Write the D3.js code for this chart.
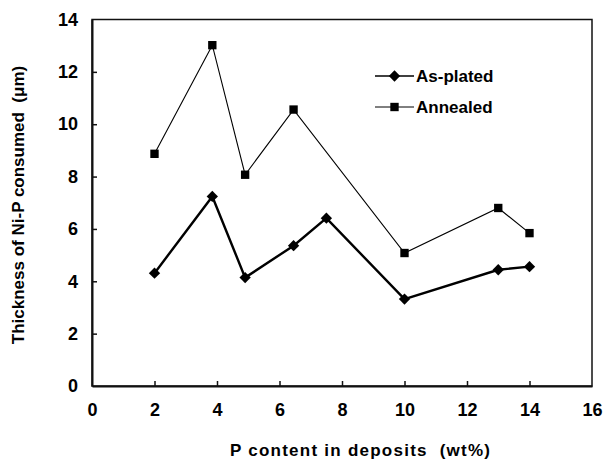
<!DOCTYPE html>
<html>
<head>
<meta charset="utf-8">
<script src="https://cdn.jsdelivr.net/npm/d3@7"></script>
<style>
  body { margin: 0; background: #fff; }
  svg text { font-family: "Liberation Sans", Arial, sans-serif; font-weight: bold; fill: #000; white-space: pre; }
</style>
</head>
<body>
<div id="chart"></div>
<script>
// values
var asPlatedX = [2, 3.85, 4.9, 6.45, 7.5, 10, 13, 14];
var asPlatedY = [4.31, 7.24, 4.14, 5.36, 6.41, 3.32, 4.44, 4.56];
var annealedX = [2, 3.85, 4.9, 6.45, 10, 13, 14];
var annealedY = [8.87, 13.02, 8.07, 10.56, 5.08, 6.8, 5.84];
var xTicks = [0, 2, 4, 6, 8, 10, 12, 14, 16];
var yTicks = [0, 2, 4, 6, 8, 10, 12, 14];
var seriesNames = ['As-plated', 'Annealed'];

var width = 604, height = 468;
var margins = {top: 19.5, left: 92, right: 12, bottom: 82};
var w = width - margins.left - margins.right;
var h = height - margins.top - margins.bottom;

var svg = d3.select('#chart').append('svg')
    .attr('width', width)
    .attr('height', height);

var g = svg.append('g')
    .attr('transform', 'translate(' + margins.left + ',' + margins.top + ')');

var x = d3.scaleLinear().domain([0, 16]).range([0, w]);
var y = d3.scaleLinear().domain([0, 14]).range([h, 0]);

// frame
g.append('rect')
    .attr('width', w).attr('height', h)
    .attr('fill', 'none').attr('stroke', '#111').attr('stroke-width', 1.5);

// axes, ticks pointing inward
var xAxis = g.append('g')
    .attr('transform', 'translate(0,' + h + ')')
    .call(d3.axisBottom(x).tickValues(xTicks).tickSizeInner(-5).tickSizeOuter(0).tickPadding(17));
var yAxis = g.append('g')
    .call(d3.axisLeft(y).tickValues(yTicks).tickSizeInner(-5).tickSizeOuter(0).tickPadding(14));

[xAxis, yAxis].forEach(function(a) {
  a.select('.domain').attr('stroke', '#111').attr('stroke-width', 2);
  a.selectAll('.tick line').attr('stroke', '#111').attr('stroke-width', 1.5);
  a.selectAll('.tick text').style('font-size', '18px').attr('fill', '#000');
});
// hide ticks sitting on the frame corners
xAxis.selectAll('.tick line').filter(function(d) { return d === 0 || d === 16; }).remove();
yAxis.selectAll('.tick line').filter(function(d) { return d === 0 || d === 14; }).remove();

var line = d3.line()
    .x(function(d) { return x(d[0]); })
    .y(function(d) { return y(d[1]); });

var asPlated = d3.zip(asPlatedX, asPlatedY);
var annealed = d3.zip(annealedX, annealedY);

g.append('path').datum(annealed)
    .attr('d', line).attr('fill', 'none').attr('stroke', '#000').attr('stroke-width', 1.1);
g.append('path').datum(asPlated)
    .attr('d', line).attr('fill', 'none').attr('stroke', '#000').attr('stroke-width', 2.4);

var diamond = d3.symbol().type(d3.symbolSquare).size(64);
var square = d3.symbol().type(d3.symbolSquare).size(70);

g.selectAll('path.dia').data(asPlated).enter().append('path')
    .attr('class', 'dia')
    .attr('d', diamond)
    .attr('transform', function(d) { return 'translate(' + x(d[0]) + ',' + y(d[1]) + ') rotate(45)'; })
    .attr('fill', '#000');
g.selectAll('path.sq').data(annealed).enter().append('path')
    .attr('class', 'sq')
    .attr('d', square)
    .attr('transform', function(d) { return 'translate(' + x(d[0]) + ',' + y(d[1]) + ')'; })
    .attr('fill', '#000');

// legend
var legend = g.append('g').attr('transform', 'translate(' + (375 - margins.left) + ',' + (76 - margins.top) + ')');
seriesNames.forEach(function(name, i) {
  var row = legend.append('g').attr('transform', 'translate(0,' + (i * 31) + ')');
  row.append('line').attr('x1', 0).attr('x2', 39).attr('y1', 0).attr('y2', 0)
      .attr('stroke', '#000').attr('stroke-width', i === 0 ? 1.6 : 1);
  row.append('path')
      .attr('d', i === 0 ? diamond : square)
      .attr('transform', 'translate(19.5,0)' + (i === 0 ? ' rotate(45)' : ''))
      .attr('fill', '#000');
  row.append('text').attr('x', 41).attr('y', 6)
      .style('font-size', '17px')
      .text(name);
});

// axis titles
svg.append('text')
    .attr('x', 360).attr('y', 456)
    .attr('text-anchor', 'middle')
    .attr('textLength', 260).attr('lengthAdjust', 'spacing')
    .style('font-size', '17px')
    .text('P content in deposits  (wt%)');

svg.append('text')
    .attr('transform', 'translate(24,205) rotate(-90)')
    .attr('text-anchor', 'middle')
    .style('font-size', '17px')
    .text('Thickness of Ni-P consumed  (\u03bcm)');
</script>
</body>
</html>
